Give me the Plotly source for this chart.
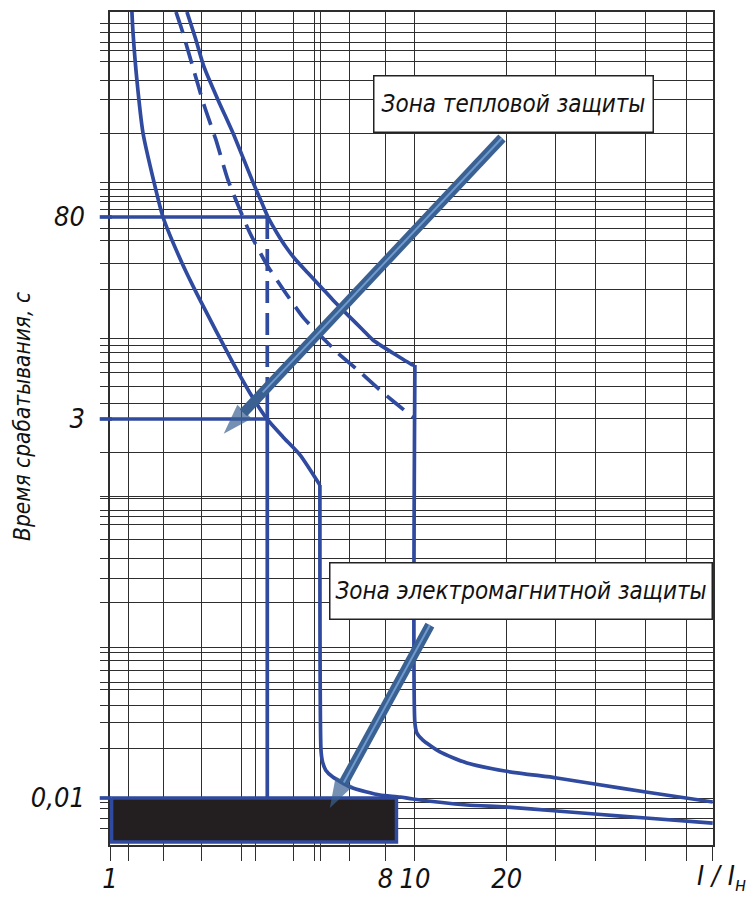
import numpy as np
import plotly.graph_objects as go

# ---------------- data (I/In, seconds) ----------------
# curve A: lower boundary, thermal part
a_th_i = [1.18, 1.19, 1.226, 1.283, 1.394, 1.492, 1.722, 1.973, 2.531, 2.877, 3.272, 3.692, 4.198, 4.88]
a_th_t = [1371, 1000, 486, 222, 106, 62.7, 31.4, 18.0, 6.97, 4.44, 3.0, 2.29, 1.75, 1.11]
# curve A: electromagnetic part
a_em_i = [4.88, 4.92, 4.97, 5.10, 5.38, 6.12, 6.96, 7.68, 8.93, 9.85, 14.8, 19.7, 29.2, 38.9, 57.2, 94.8]
a_em_t = [1.11, 0.0206, 0.0175, 0.0152, 0.0137, 0.0118, 0.01094, 0.01046, 0.01015, 0.00985, 0.0090, 0.00874, 0.00822, 0.00786, 0.0074, 0.00686]
# curve B: upper boundary, thermal part
b_th_i = [1.788, 1.914, 2.034, 2.261, 2.531, 2.750, 2.943, 3.150, 3.297, 3.528, 3.776, 4.072, 4.459, 4.919, 5.384, 6.122, 6.752, 7.282, 8.472, 9.849, 10.0]
b_th_t = [1371, 900, 600, 365, 222, 148, 106, 77.4, 62.7, 49.3, 39.9, 32.8, 27.0, 21.9, 18.0, 13.9, 11.45, 9.85, 8.10, 6.76, 6.76]
# curve B: electromagnetic part
b_em_i = [10.0, 10.0, 10.15, 10.62, 12.08, 14.81, 19.73, 29.2, 38.9, 57.2, 94.8]
b_em_t = [6.76, 0.0309, 0.0266, 0.0239, 0.0200, 0.01694, 0.01501, 0.01352, 0.01234, 0.01094, 0.00941]
# curve C: dashed (hot state)
c_i = [1.646, 1.722, 1.857, 2.034, 2.226, 2.437, 2.669, 2.877, 3.272, 3.748, 4.294, 4.70, 5.592, 6.60, 7.68, 9.849, 10.0]
c_t = [1371, 1046, 627, 338, 200, 109.5, 69.7, 49.3, 30.5, 20.3, 13.9, 11.45, 8.10, 6.09, 4.64, 3.09, 3.05]

# marker lines
mark_i = 3.28             # vertical reference current
t80 = 62.7                # level labelled "80"
t3 = 3.0                  # level labelled "3"
t001 = 0.01               # level labelled "0,01"
mark_dash_end = 5.16      # dashed part of vertical ends here

# black instantaneous zone rectangle
rect_i = [1.012, 8.7]
rect_t = [0.00516, 0.01]

# grid
x_grid = [1, 1.15, 1.5, 2, 2.7, 3, 4, 4.7, 4.9, 6.1, 8, 10, 20, 29, 39, 57, 78, 94.8]
x_labels = {1: "1", 8: "8", 10: "10", 20: "20"}
y_grid = [1150, 1000, 870, 770, 650, 490, 365, 220, 106, 95, 85, 79, 70, 62.7, 53, 44, 31, 21,
          10, 9.1, 8.1, 7, 6, 4.9, 3.8, 3, 1.8, 0.94, 0.9, 0.76, 0.69, 0.61, 0.49, 0.37, 0.27, 0.19,
          0.097, 0.089, 0.079, 0.068, 0.057, 0.051, 0.04, 0.031, 0.021, 0.01, 0.0094, 0.0085, 0.0074, 0.0063]
y_labels = {62.7: "80", 3: "3", 0.01: "0,01"}

# arrows (tip, tail) in data units
arrow1 = dict(tip=(2.36, 2.40), tail=(19.3, 206))
arrow2 = dict(tip=(5.26, 0.0086), tail=(11.2, 0.135))

label_thermal = "Зона тепловой защиты"
label_em = "Зона электромагнитной защиты"
y_title = "Время срабатывания, с"
x_title = "I / I<sub>н</sub>"

# ---------------- style ----------------
BLUE = "#2f4a9f"
GRID = "#2e2e2e"
ARROW = "#3a6191"
STRIPE = "#6d9ad0"
FONT = dict(family="Liberation Sans Narrow, DejaVu Sans Condensed, Liberation Sans, sans-serif",
            style="italic", color="#111111")
LW = 3.7

fig = go.Figure()

def line(x, y, dash="solid", shape="spline", w=LW):
    fig.add_trace(go.Scatter(x=x, y=y, mode="lines",
                             line=dict(color=BLUE, width=w, dash=dash, shape=shape, smoothing=0.6),
                             hoverinfo="skip", showlegend=False))

# rectangle
fig.add_trace(go.Scatter(x=[rect_i[0], rect_i[1], rect_i[1], rect_i[0], rect_i[0]],
                         y=[rect_t[1], rect_t[1], rect_t[0], rect_t[0], rect_t[1]],
                         mode="lines", fill="toself", fillcolor="#231f20",
                         line=dict(color=BLUE, width=3.5), hoverinfo="skip", showlegend=False))

line(a_th_i, a_th_t)
line(a_em_i, a_em_t)
line(b_th_i, b_th_t)
line(b_em_i, b_em_t)
line(c_i, c_t, dash="22px,10px")
# reference lines
line([1, mark_i], [t80, t80], shape="linear")
line([1, mark_i], [t3, t3], shape="linear")
line([mark_i, mark_i], [t80, mark_dash_end], dash="22px,10px", shape="linear")
line([mark_i, mark_i], [mark_dash_end, t001], shape="linear")

# arrows: thick shaft with arrow marker at tip, plus a light stripe
for arr in (arrow1, arrow2):
    (xi, yt), (ai, at) = arr["tip"], arr["tail"]
    fig.add_trace(go.Scatter(x=[ai, xi], y=[at, yt], mode="lines+markers",
                             line=dict(color=ARROW, width=10),
                             marker=dict(symbol="arrow", size=[0, 32], angleref="previous",
                                         color=ARROW, line=dict(width=0)),
                             hoverinfo="skip", showlegend=False, cliponaxis=False))
    f = 0.86
    mi = 10 ** (np.log10(ai) + f * (np.log10(xi) - np.log10(ai)))
    mt = 10 ** (np.log10(at) + f * (np.log10(yt) - np.log10(at)))
    fig.add_trace(go.Scatter(x=[ai, mi], y=[at, mt], mode="lines",
                             line=dict(color=STRIPE, width=2),
                             hoverinfo="skip", showlegend=False))

# stubs left of the axis
shapes = []
for tv in (t80, t3, t001):
    shapes.append(dict(type="line", xref="paper", yref="y", x0=-0.017, x1=0.003, y0=tv, y1=tv,
                       line=dict(color=BLUE, width=LW)))

annotations = []
annotations.append(dict(text=label_thermal, xref="paper", yref="paper", x=0.6692, y=0.8896,
                        xanchor="center", yanchor="middle", showarrow=False, bgcolor="white",
                        bordercolor="#222", borderwidth=1.5, borderpad=0, width=278, height=55,
                        font=dict(FONT, size=24)))
annotations.append(dict(text=label_em, xref="paper", yref="paper", x=0.6816, y=0.3049,
                        xanchor="center", yanchor="middle", showarrow=False, bgcolor="white",
                        bordercolor="#222", borderwidth=1.5, borderpad=0, width=381, height=55,
                        font=dict(FONT, size=24)))
annotations.append(dict(text=y_title, xref="paper", yref="paper", x=-0.146, y=0.515,
                        textangle=-90, showarrow=False, xanchor="center", yanchor="middle",
                        font=dict(FONT, size=22.5)))
annotations.append(dict(text=x_title, xref="paper", yref="paper", x=1.058, y=-0.016,
                        xanchor="right", yanchor="top", showarrow=False, font=dict(FONT, size=27)))

# the page body adds an 8px margin: figure is sized/margined to compensate
fig.update_layout(
    width=747, height=889, margin=dict(l=102, r=42, t=4, b=52, autoexpand=False),
    plot_bgcolor="white", paper_bgcolor="white",
    shapes=shapes, annotations=annotations,
    xaxis=dict(type="log", range=[0, np.log10(95.0)], tickvals=x_grid,
               ticktext=[x_labels.get(v, "") for v in x_grid], automargin=False,
               showgrid=True, gridcolor=GRID, gridwidth=1.3,
               ticks="outside", ticklen=14, tickwidth=1.3, tickcolor=GRID,
               showline=True, linecolor=GRID, linewidth=1.5, mirror=True,
               tickfont=dict(FONT, size=27), ticklabelstandoff=-5),
    yaxis=dict(type="log", range=[np.log10(0.00493), np.log10(1371)], tickvals=y_grid,
               ticktext=[y_labels.get(v, "") for v in y_grid], automargin=False,
               showgrid=True, gridcolor=GRID, gridwidth=1.3,
               ticks="outside", ticklen=8, tickwidth=1.3, tickcolor=GRID,
               showline=True, linecolor=GRID, linewidth=1.5, mirror=True,
               tickfont=dict(FONT, size=27), ticklabelstandoff=10),
)

fig.write_html("out.html")
